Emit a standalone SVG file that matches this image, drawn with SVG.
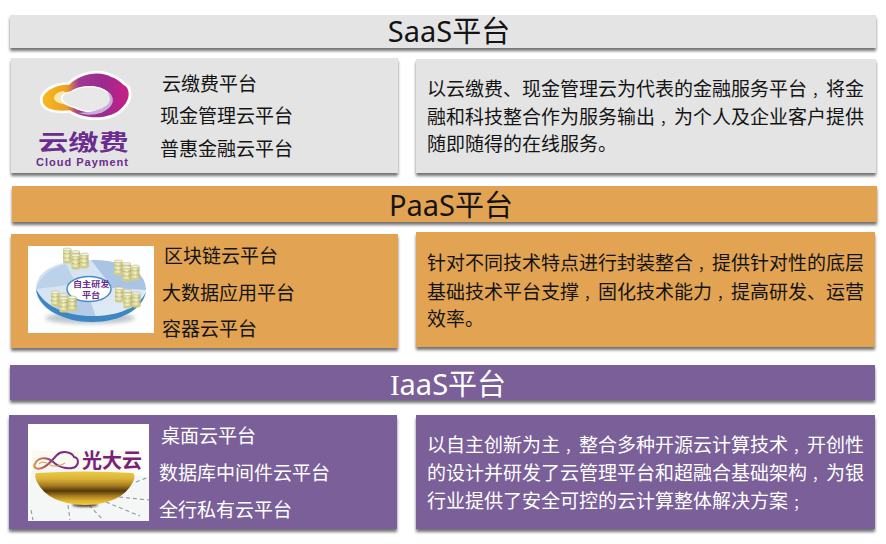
<svg xmlns="http://www.w3.org/2000/svg" width="886" height="544" viewBox="0 0 886 544">
<defs>
<filter id="sh" x="-5%" y="-20%" width="110%" height="150%"><feDropShadow dx="0" dy="3" stdDeviation="1.5" flood-color="#000" flood-opacity="0.55"/></filter>
<filter id="soft" x="-10%" y="-50%" width="120%" height="200%"><feGaussianBlur stdDeviation="0.8"/></filter>
<filter id="soft2" x="-20%" y="-50%" width="140%" height="200%"><feGaussianBlur stdDeviation="2"/></filter>
<linearGradient id="bowl" x1="0" y1="0" x2="0" y2="1"><stop offset="0" stop-color="#e9cb45"/><stop offset="0.22" stop-color="#dcb338"/><stop offset="0.42" stop-color="#a67c20"/><stop offset="0.58" stop-color="#54380c"/><stop offset="0.72" stop-color="#a37a1c"/><stop offset="0.88" stop-color="#e0b52f"/><stop offset="1" stop-color="#efcb3f"/></linearGradient>
<linearGradient id="cloud" x1="0" y1="0" x2="1" y2="0"><stop offset="0" stop-color="#f7b91d"/><stop offset="0.28" stop-color="#ee9f25"/><stop offset="0.42" stop-color="#a03a95"/><stop offset="0.7" stop-color="#9b2a8e"/><stop offset="1" stop-color="#c91f86"/></linearGradient>
<linearGradient id="ribbon" x1="0" y1="0" x2="1" y2="0"><stop offset="0" stop-color="#d9923a"/><stop offset="0.5" stop-color="#7c2a85"/><stop offset="1" stop-color="#7a2a85"/></linearGradient>
<linearGradient id="disc" x1="0" y1="0" x2="1" y2="1"><stop offset="0" stop-color="#cfdff1"/><stop offset="1" stop-color="#e4edf7"/></linearGradient>
<linearGradient id="cyl" x1="0" y1="0" x2="1" y2="0"><stop offset="0" stop-color="#cfcd88"/><stop offset="0.5" stop-color="#f5f2c4"/><stop offset="1" stop-color="#bdb870"/></linearGradient>
<g id="can"><rect x="0" y="1.2" width="8.5" height="13" fill="url(#cyl)"/><path d="M0 5.200Q4.200 7 8.500 5.200M0 9.400Q4.200 11.200 8.500 9.400" fill="none" stroke="#9c9c68" stroke-width=".5"/><ellipse cx="4.250" cy="14.200" rx="4.250" ry="1.400" fill="#cfcd88"/><ellipse cx="4.250" cy="1.400" rx="4.250" ry="1.400" fill="#f2f2d8" stroke="#9c9c68" stroke-width=".4"/></g>
<g id="stack"><use href="#can" x="0" y="0"/><use href="#can" x="8.500" y="2.500"/><use href="#can" x="17" y="5"/><use href="#can" x="8.500" y="6"/></g>
</defs>
<style>
text{font-family:"Noto Sans CJK SC","Noto Sans",sans-serif}
.h{font-size:29px;text-anchor:middle;font-family:"Noto Sans","Noto Sans CJK SC",sans-serif}
.l{font-size:19px}
.d{font-size:19px}
.c{font-size:14px}
.k{fill:#141414}
.w{fill:#fff}
.g{fill:#e4e4e4}
.o{fill:#e2a352}
.p{fill:#7a5f99}
.b{font-weight:700;fill:#6b2c8f}
</style>
<g id="saas-header"><rect class="g" x="10" y="15" width="866" height="33" filter="url(#sh)"/><text class="h k" x="449" y="42">SaaS平台</text></g>
<g id="saas-list">
<rect class="g" x="11" y="58" width="387" height="115" filter="url(#sh)"/>
<g transform="translate(30 62) scale(.3333)">
<path d="M30 112C28 85 75 58 112 62C140 32 205 12 250 38C268 44 280 56 285 62C310 72 312 115 285 140C255 178 170 188 118 152C70 158 28 145 30 112Z" fill="#fff"/>
<path d="M38 112C38 90 78 66 118 68C145 40 205 22 245 46C262 50 272 62 280 68C302 78 302 112 278 135C250 170 172 178 120 145C72 150 36 140 38 112Z" fill="url(#cloud)"/>
<path d="M72 108C72 95 90 88 100 88L125 100L110 128C90 125 72 120 72 108Z" fill="#f7e7a8"/>
<path d="M92 108C92 95 112 90 122 88C150 68 205 66 232 88C250 100 250 122 232 136C205 155 160 155 132 138C110 132 92 122 92 108Z" fill="#fff"/>
<path d="M232 88C258 105 255 135 215 152C190 160 165 160 145 152C185 155 255 135 232 88Z" fill="#c8aed8"/>
<path d="M98 108C98 97 116 92 126 90C152 72 204 70 228 90C244 102 244 120 228 132C204 150 162 150 136 135C116 130 98 120 98 108Z" fill="#e8e8e8"/>
</g>
<text class="b" transform="translate(38 149.500) scale(1.410 1)" font-size="21.500">云缴费</text>
<text class="b" x="36" y="165.500" font-size="11" textLength="92" style="font-family:'Liberation Sans',sans-serif">Cloud Payment</text>
<text class="l k" x="162" y="91">云缴费平台</text><text class="l k" x="160" y="123">现金管理云平台</text><text class="l k" x="160" y="156">普惠金融云平台</text>
</g>
<g id="saas-desc"><rect class="g" x="416" y="59" width="460" height="114" filter="url(#sh)"/>
<text class="d k" x="427" y="96">以云缴费、现金管理云为代表的金融服务平台<tspan class="c" dx="5">，</tspan>将金</text>
<text class="d k" x="427" y="124">融和科技整合作为服务输出<tspan class="c" dx="5">，</tspan>为个人及企业客户提供</text>
<text class="d k" x="427" y="151">随即随得的在线服务。</text></g>
<g id="paas-header"><rect class="o" x="12" y="186" width="865" height="36" filter="url(#sh)"/><text class="h k" x="451" y="216">PaaS平台</text></g>
<g id="paas-list">
<rect class="o" x="11" y="234" width="387" height="114" filter="url(#sh)"/>
<rect x="28" y="246" width="126" height="87" fill="#fff"/>
<ellipse cx="90" cy="318" rx="45" ry="6" fill="#bcc4cc" filter="url(#soft2)"/>
<path d="M36 289C36 268 62 260 91 260C122 260 146 270 146 290C146 308 122 321 92 321C60 321 36 308 36 289Z" fill="url(#disc)"/>
<path d="M91 260C122 260 146 270 146 290L112 288L108 282Z" fill="#a9c4e4"/>
<path d="M36 289C40 276 50 268 66 264L76 284Z" fill="#bcd2ea"/>
<path d="M90 300L97 320C76 322 58 316 50 310L72 295Z" fill="#b4cce8"/>
<path d="M36 289C38 309 64 322 92 322C120 322 142 310 146 292C138 308 118 316 92 316C66 316 44 306 36 289Z" fill="#3d86c4"/>
<ellipse cx="89" cy="289" rx="22" ry="12.500" fill="#fff" stroke="#4c8cc6" stroke-width="1.500"/>
<text class="b" transform="translate(73 286.500) scale(1.200 1)" font-size="7.600">自主研发</text><text class="b" transform="translate(82 297.500) scale(1.200 1)" font-size="7.600">平台</text>
<use href="#stack" x="63" y="248"/>
<use href="#stack" x="114" y="260"/>
<use href="#stack" x="51" y="291"/>
<use href="#stack" x="115" y="287"/>
<text class="l k" x="164" y="263">区块链云平台</text><text class="l k" x="162" y="300">大数据应用平台</text><text class="l k" x="162" y="336">容器云平台</text>
</g>
<g id="paas-desc"><rect class="o" x="416" y="232" width="459" height="115" filter="url(#sh)"/>
<text class="d k" x="427" y="270">针对不同技术特点进行封装整合<tspan class="c" dx="5">，</tspan>提供针对性的底层</text>
<text class="d k" x="427" y="299">基础技术平台支撑<tspan class="c" dx="5">，</tspan>固化技术能力<tspan class="c" dx="5">，</tspan>提高研发、运营</text>
<text class="d k" x="427" y="326">效率。</text></g>
<g id="iaas-header"><rect class="p" x="10" y="365" width="865" height="35" filter="url(#sh)"/><text class="h w" x="448" y="395"><tspan style="font-family:'Liberation Serif',serif">I</tspan>aaS平台</text></g>
<g id="iaas-list">
<rect class="p" x="9" y="415" width="388" height="114" filter="url(#sh)"/>
<rect x="28" y="424" width="121" height="97" fill="#fff"/>
<rect x="32" y="451" width="105" height="23" fill="#fbfaf0"/>
<path d="M34 460L149 477V521H28V490Z" fill="#f1f3f3" opacity=".7"/>
<path d="M68 505L70 520M89 505L103 520M106 502L140 516M119 497L149 500M136 482L149 477M31 510L33 520" stroke="#8a9a9c" stroke-width="1.100" stroke-dasharray="4 3" fill="none"/>
<ellipse cx="85" cy="505" rx="13" ry="2" fill="#4e4a3c" filter="url(#soft)"/>
<path d="M36 473Q85 470 133 473Q136 476 133 482Q122 504 85 505Q48 504 37 482Q34 476 36 473Z" fill="url(#bowl)"/>
<path d="M35 464C37 458 46 456 52 461C58 467 66 469 72 468C79 467 80 458 74 457C72 452 62 450 57 455C53 459 48 466 42 468C36 470 33 467 35 464Z" fill="none" stroke="url(#ribbon)" stroke-width="2"/>
<path d="M39 464C42 461 46 462 50 465C54 467 60 466 65 463" fill="none" stroke="#d9923a" stroke-width="1"/>
<text x="82" y="468" font-size="20" font-weight="700" fill="#7a1f7a">光大云</text>
<text class="l w" x="161" y="443">桌面云平台</text><text class="l w" x="159" y="480">数据库中间件云平台</text><text class="l w" x="159" y="517">全行私有云平台</text>
</g>
<g id="iaas-desc"><rect class="p" x="416" y="415" width="459" height="114" filter="url(#sh)"/>
<text class="d w" x="427" y="452">以自主创新为主<tspan class="c" dx="5">，</tspan>整合多种开源云计算技术<tspan class="c" dx="5">，</tspan>开创性</text>
<text class="d w" x="427" y="480">的设计并研发了云管理平台和超融合基础架构<tspan class="c" dx="5">，</tspan>为银</text>
<text class="d w" x="427" y="508">行业提供了安全可控的云计算整体解决方案<tspan class="c" dx="5">；</tspan></text></g>
</svg>
